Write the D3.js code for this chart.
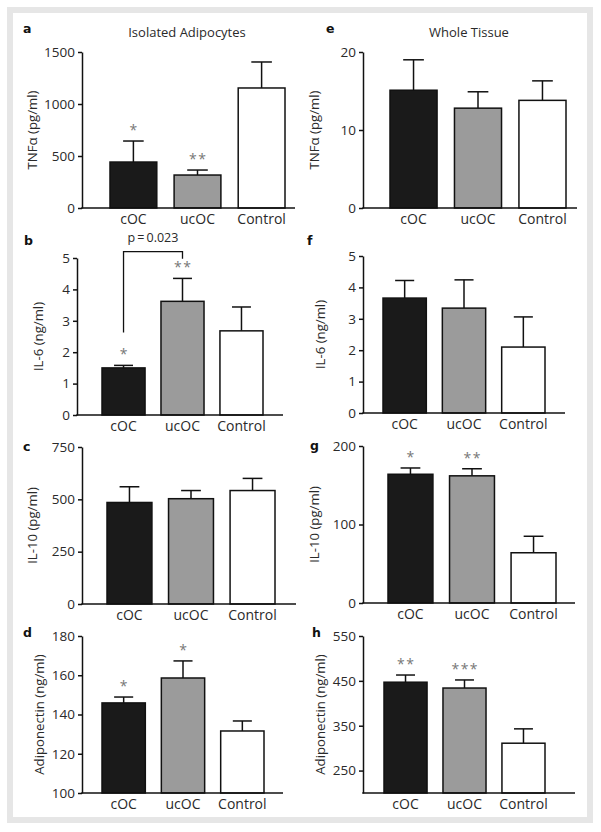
<!DOCTYPE html>
<html><head><meta charset="utf-8">
<script src="https://cdn.jsdelivr.net/npm/d3@7"></script>
<style>
html,body{margin:0;padding:0;background:#fff;}
svg text{font-family:"Open Sans",sans-serif;fill:#2a2a2a;}
</style></head>
<body>
<script>
// ---------- DATA ----------
const categories = ["cOC", "ucOC", "Control"];

const tnfIsoMean = [442, 317, 1154];
const tnfIsoSem  = [202, 48, 250];
const tnfIsoTicks = [0, 500, 1000, 1500];
const tnfIsoSig = ["*", "**", ""];

const il6IsoMean = [1.50, 3.62, 2.68];
const il6IsoSem  = [0.08, 0.73, 0.76];
const il6IsoTicks = [0, 1, 2, 3, 4, 5];
const il6IsoSig = ["*", "**", ""];

const il10IsoMean = [485, 503, 542];
const il10IsoSem  = [75, 39, 58];
const il10IsoTicks = [0, 250, 500, 750];
const il10IsoSig = ["", "", ""];

const adipoIsoMean = [145.9, 158.6, 131.6];
const adipoIsoSem  = [3.0, 8.7, 5.1];
const adipoIsoTicks = [100, 120, 140, 160, 180];
const adipoIsoSig = ["*", "*", ""];

const tnfTisMean = [15.1, 12.8, 13.8];
const tnfTisSem  = [3.9, 2.1, 2.5];
const tnfTisTicks = [0, 10, 20];
const tnfTisSig = ["", "", ""];

const il6TisMean = [3.66, 3.34, 2.10];
const il6TisSem  = [0.56, 0.90, 0.96];
const il6TisTicks = [0, 1, 2, 3, 4, 5];
const il6TisSig = ["", "", ""];

const il10TisMean = [164, 162, 64];
const il10TisSem  = [8, 9, 21];
const il10TisTicks = [0, 100, 200];
const il10TisSig = ["*", "**", ""];

const adipoTisMean = [447, 434, 311];
const adipoTisSem  = [16, 18, 32];
const adipoTisTicks = [250, 350, 450, 550];
const adipoTisSig = ["**", "***", ""];

const columnTitles = ["Isolated Adipocytes", "Whole Tissue"];
const pValueText = "p\u2009=\u20090.023";

// ---------- LAYOUT ----------
const W = 601, H = 832;
const barColors = ["#1a1a1a", "#9b9b9b", "#ffffff"];

const panels = [
  {letter:"a", mean:tnfIsoMean, sem:tnfIsoSem, ticks:tnfIsoTicks, sig:tnfIsoSig, domain:[0,1500], label:"TNF\u03b1 (pg/ml)",
   x0:82, x1:295, yTop:52, yBot:208, band:[110,285], labelX:32, letterPos:[23,33]},
  {letter:"b", mean:il6IsoMean, sem:il6IsoSem, ticks:il6IsoTicks, sig:il6IsoSig, domain:[0,5], label:"IL-6 (ng/ml)",
   x0:77, x1:283, yTop:258, yBot:415, band:[102,263], labelX:38, letterPos:[24,245]},
  {letter:"c", mean:il10IsoMean, sem:il10IsoSem, ticks:il10IsoTicks, sig:il10IsoSig, domain:[0,750], label:"IL-10 (pg/ml)",
   x0:82, x1:296, yTop:447, yBot:604, band:[107,275], labelX:32, letterPos:[23,451]},
  {letter:"d", mean:adipoIsoMean, sem:adipoIsoSem, ticks:adipoIsoTicks, sig:adipoIsoSig, domain:[100,180], label:"Adiponectin (ng/ml)",
   x0:82, x1:283, yTop:636, yBot:793, band:[102,264], labelX:39, letterPos:[23,637]},
  {letter:"e", mean:tnfTisMean, sem:tnfTisSem, ticks:tnfTisTicks, sig:tnfTisSig, domain:[0,20], label:"TNF\u03b1 (pg/ml)",
   x0:363, x1:577, yTop:52, yBot:208, band:[390,566], labelX:314, letterPos:[326,33]},
  {letter:"f", mean:il6TisMean, sem:il6TisSem, ticks:il6TisTicks, sig:il6TisSig, domain:[0,5], label:"IL-6 (ng/ml)",
   x0:363, x1:565, yTop:256, yBot:413, band:[383,545], labelX:320, letterPos:[307,245]},
  {letter:"g", mean:il10TisMean, sem:il10TisSem, ticks:il10TisTicks, sig:il10TisSig, domain:[0,200], label:"IL-10 (pg/ml)",
   x0:363, x1:575, yTop:446, yBot:603, band:[388,556], labelX:314, letterPos:[310,450]},
  {letter:"h", mean:adipoTisMean, sem:adipoTisSem, ticks:adipoTisTicks, sig:adipoTisSig, domain:[200,550], label:"Adiponectin (ng/ml)",
   x0:363, x1:575, yTop:636, yBot:793, band:[384,545], labelX:320, letterPos:[312,637]}
];

const svg = d3.select("body").append("svg").attr("width", W).attr("height", H);
svg.append("rect").attr("x",0).attr("y",0).attr("width",W).attr("height",H).attr("fill","#fff");
svg.append("rect").attr("x",10).attr("y",10).attr("width",580).attr("height",810)
   .attr("fill","#fff").attr("stroke","#e6e6e6").attr("stroke-width",6);

// column titles
svg.append("text").attr("x",187).attr("y",37).attr("text-anchor","middle").attr("font-size",13).text(columnTitles[0]);
svg.append("text").attr("x",469).attr("y",37).attr("text-anchor","middle").attr("font-size",13).text(columnTitles[1]);

panels.forEach(p => {
  const g = svg.append("g");
  const y = d3.scaleLinear().domain(p.domain).range([p.yBot, p.yTop]);
  const x = d3.scaleBand().domain(categories).range(p.band).paddingInner(0.27).paddingOuter(0);

  // y axis
  const yAxis = d3.axisLeft(y).tickValues(p.ticks).tickFormat(d3.format("d"))
    .tickSize(4).tickSizeOuter(0).tickPadding(3);
  const ga = g.append("g").attr("transform", `translate(${p.x0},0)`).call(yAxis);
  ga.select(".domain").attr("stroke","#111").attr("stroke-width",1.5);
  ga.selectAll(".tick line").attr("stroke","#111").attr("stroke-width",1.5);
  ga.selectAll(".tick text").attr("font-size",13.5).attr("font-family","Open Sans, sans-serif").attr("fill","#2a2a2a");

  const data = categories.map((c,i)=>({c, m:p.mean[i], s:p.sem[i], sig:p.sig[i], col:barColors[i]}));
  // error bars (upper only) and significance marks
  data.forEach(d => {
    const cx = x(d.c) + x.bandwidth()/2;
    const capW = x.bandwidth()*0.44;
    g.append("line").attr("x1",cx).attr("x2",cx).attr("y1",y(d.m)).attr("y2",y(d.m+d.s))
      .attr("stroke","#111").attr("stroke-width",1.5);
    g.append("line").attr("x1",cx-capW/2).attr("x2",cx+capW/2).attr("y1",y(d.m+d.s)).attr("y2",y(d.m+d.s))
      .attr("stroke","#111").attr("stroke-width",1.5);
    if (d.sig) {
      g.append("text").attr("x",cx).attr("y",y(d.m+d.s)-6).attr("text-anchor","middle")
        .attr("font-size",14).style("fill","#777").text(d.sig.split("").join("\u200a"));
    }
  });
  g.selectAll("rect.bar").data(data).enter().append("rect").attr("class","bar")
    .attr("x", d=>x(d.c)).attr("width", x.bandwidth())
    .attr("y", d=>y(d.m)).attr("height", d=>p.yBot - y(d.m))
    .attr("fill", d=>d.col).attr("stroke","#111").attr("stroke-width",1.5);

  // baseline
  g.append("line").attr("x1",p.x0-0.75).attr("x2",p.x1).attr("y1",p.yBot).attr("y2",p.yBot)
    .attr("stroke","#111").attr("stroke-width",1.5);

  // x labels
  categories.forEach(c => {
    g.append("text").attr("x", x(c)+x.bandwidth()/2).attr("y", p.yBot+16).attr("text-anchor","middle")
      .attr("font-size",14).text(c);
  });

  // y label
  g.append("text").attr("transform",`translate(${p.labelX},${(p.yTop+p.yBot)/2}) rotate(-90)`)
    .attr("text-anchor","middle").attr("dominant-baseline","central").attr("font-size",13.2).text(p.label);

  // letter
  g.append("text").attr("x",p.letterPos[0]).attr("y",p.letterPos[1]).attr("font-size",12.5)
    .attr("font-weight","bold").style("font-family","'DejaVu Sans', sans-serif").style("fill","#111").text(p.letter);

  // bracket for panel b
  if (p.letter === "b") {
    const xa = x(categories[0]) + x.bandwidth()/2;
    const xb = x(categories[1]) + x.bandwidth()/2;
    g.append("path").attr("d", `M${xa},${y(2.63)} V${y(5.2)} H${xb} V${y(4.98)}`)
      .attr("fill","none").attr("stroke","#111").attr("stroke-width",1.3);
    g.append("text").attr("x",(xa+xb)/2).attr("y",y(5.5)).attr("text-anchor","middle")
      .attr("font-size",12.5).text(pValueText);
  }
});
</script>
</body></html>
